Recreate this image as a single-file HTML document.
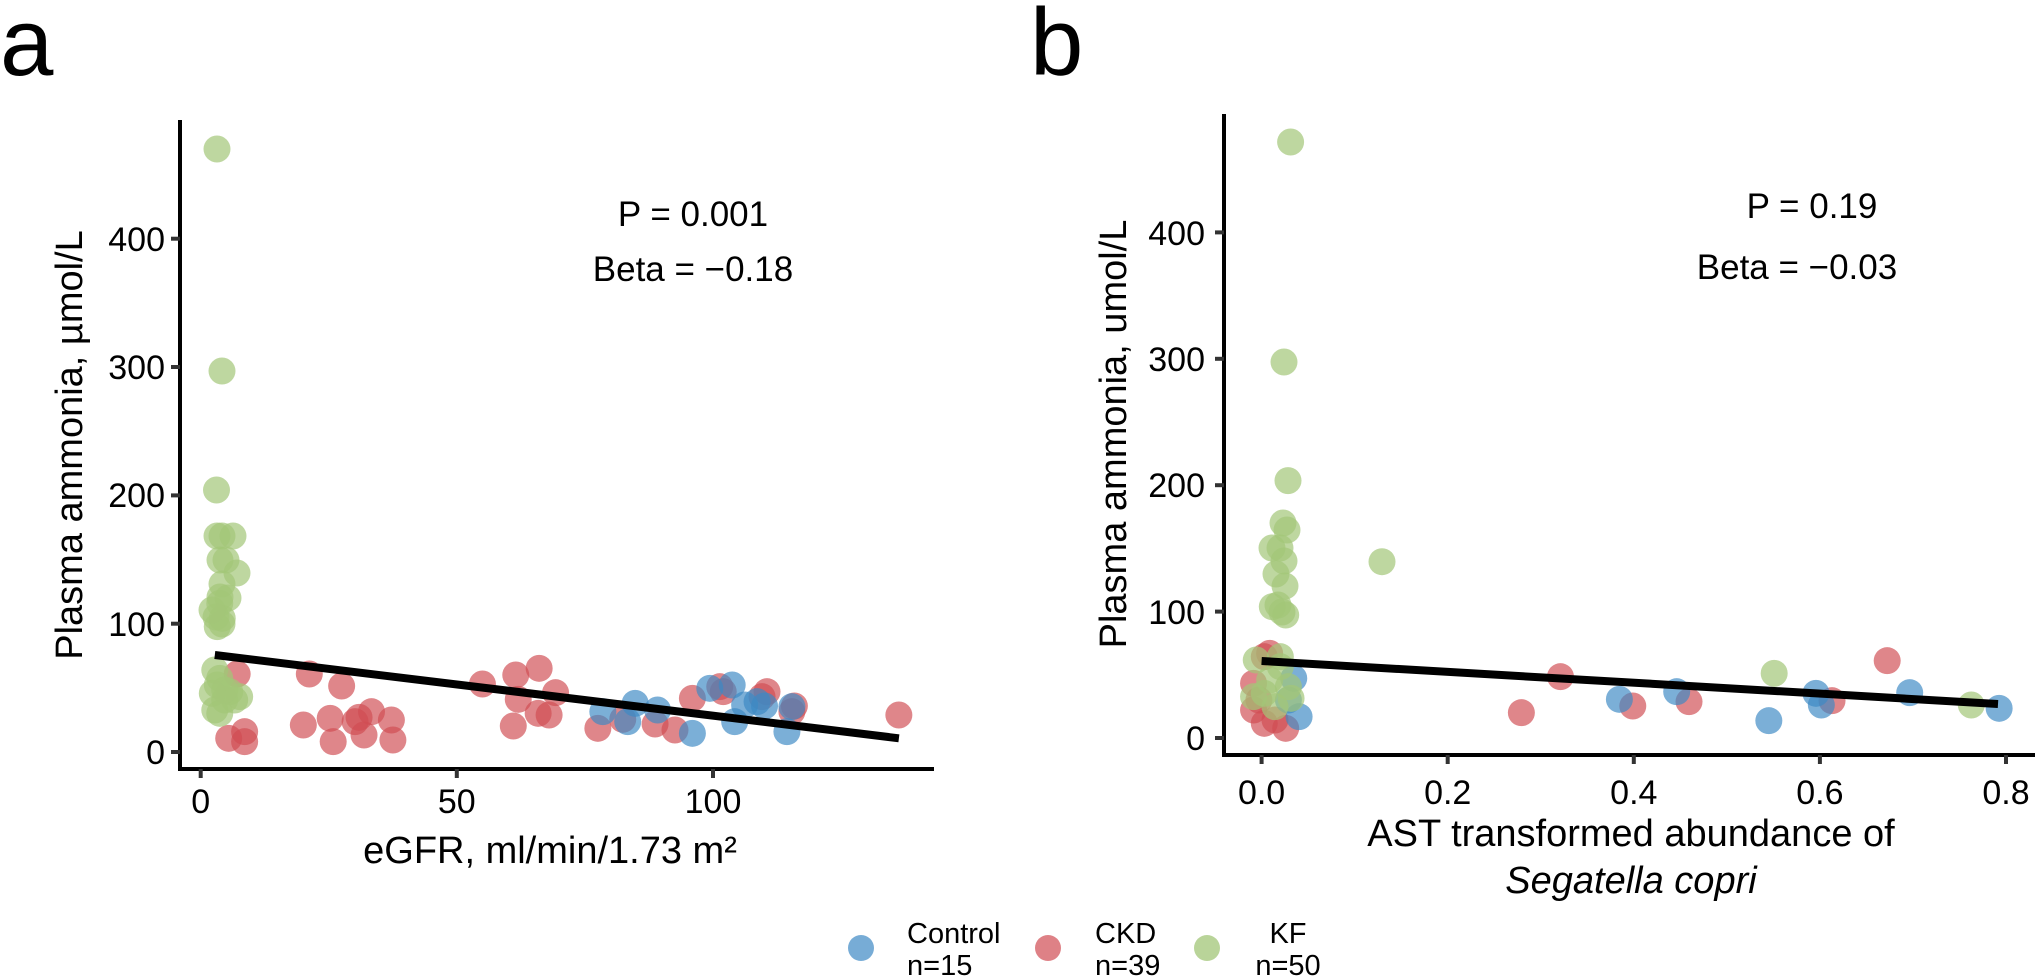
<!DOCTYPE html>
<html><head><meta charset="utf-8">
<style>
html,body{margin:0;padding:0;background:#fff;}
svg{display:block;}
text{font-family:"Liberation Sans",Arial,sans-serif;fill:#000;}
</style></head>
<body>
<svg id="s" width="2040" height="979" viewBox="0 0 2040 979" xmlns="http://www.w3.org/2000/svg">
<rect width="2040" height="979" fill="#fff"/>
<g id="pts"></g>
<!-- Panel a axes -->
<line x1="180" y1="120" x2="180" y2="771" stroke="#000" stroke-width="4"/>
<line x1="178" y1="769" x2="934" y2="769" stroke="#000" stroke-width="4"/>
<g stroke="#333" stroke-width="4">
<line x1="171" y1="752" x2="180" y2="752"/><line x1="171" y1="623.7" x2="180" y2="623.7"/>
<line x1="171" y1="495.4" x2="180" y2="495.4"/><line x1="171" y1="367" x2="180" y2="367"/>
<line x1="171" y1="238.7" x2="180" y2="238.7"/>
<line x1="200.7" y1="769" x2="200.7" y2="778"/><line x1="456.8" y1="769" x2="456.8" y2="778"/>
<line x1="713" y1="769" x2="713" y2="778"/>
</g>
<g font-size="34" text-anchor="end">
<text x="165" y="764">0</text><text x="165" y="636">100</text><text x="165" y="507">200</text>
<text x="165" y="379">300</text><text x="165" y="251">400</text>
</g>
<g font-size="34" text-anchor="middle">
<text x="200.7" y="813">0</text><text x="456.8" y="813">50</text><text x="713" y="813">100</text>
</g>
<text x="550" y="863" font-size="38" text-anchor="middle">eGFR, ml/min/1.73 m²</text>
<text transform="translate(82,445) rotate(-90)" font-size="38" text-anchor="middle">Plasma ammonia, µmol/L</text>
<text x="693" y="226" font-size="35" text-anchor="middle">P = 0.001</text>
<text x="693" y="281" font-size="35" text-anchor="middle">Beta = −0.18</text>
<text x="0" y="75" font-size="96">a</text>

<!-- Panel b axes -->
<line x1="1224" y1="114" x2="1224" y2="757" stroke="#000" stroke-width="4"/>
<line x1="1222" y1="755" x2="2035" y2="755" stroke="#000" stroke-width="4"/>
<g stroke="#333" stroke-width="4">
<line x1="1215" y1="738" x2="1224" y2="738"/><line x1="1215" y1="611.6" x2="1224" y2="611.6"/>
<line x1="1215" y1="485.2" x2="1224" y2="485.2"/><line x1="1215" y1="358.8" x2="1224" y2="358.8"/>
<line x1="1215" y1="232.4" x2="1224" y2="232.4"/>
<line x1="1261.6" y1="755" x2="1261.6" y2="764"/><line x1="1447.7" y1="755" x2="1447.7" y2="764"/>
<line x1="1633.8" y1="755" x2="1633.8" y2="764"/><line x1="1819.9" y1="755" x2="1819.9" y2="764"/>
<line x1="2006" y1="755" x2="2006" y2="764"/>
</g>
<g font-size="34" text-anchor="end">
<text x="1205" y="750">0</text><text x="1205" y="624">100</text><text x="1205" y="497">200</text>
<text x="1205" y="371">300</text><text x="1205" y="245">400</text>
</g>
<g font-size="34" text-anchor="middle">
<text x="1261.6" y="804">0.0</text><text x="1447.7" y="804">0.2</text><text x="1633.8" y="804">0.4</text>
<text x="1819.9" y="804">0.6</text><text x="2006" y="804">0.8</text>
</g>
<text x="1631" y="846" font-size="38" text-anchor="middle">AST transformed abundance of</text>
<text x="1631" y="893" font-size="38" text-anchor="middle" font-style="italic">Segatella copri</text>
<text transform="translate(1126,434) rotate(-90)" font-size="38" text-anchor="middle">Plasma ammonia, umol/L</text>
<text x="1812" y="218" font-size="35" text-anchor="middle">P = 0.19</text>
<text x="1797" y="279" font-size="35" text-anchor="middle">Beta = −0.03</text>
<text x="1030" y="75" font-size="96">b</text>

<!-- Legend -->
<circle cx="861" cy="948" r="13" fill="#3d89c4" fill-opacity="0.7"/>
<circle cx="1048" cy="948" r="13" fill="#d04c52" fill-opacity="0.7"/>
<circle cx="1207" cy="948" r="13" fill="#a2c677" fill-opacity="0.75"/>
<g font-size="29">
<text x="907" y="943">Control</text><text x="907" y="975">n=15</text>
<text x="1095" y="943">CKD</text><text x="1095" y="975">n=39</text>
<text x="1288" y="943" text-anchor="middle">KF</text><text x="1288" y="975" text-anchor="middle">n=50</text>
</g>
</svg>
<script>
(function(){
var NS="http://www.w3.org/2000/svg";
var g=document.getElementById("pts");
var col={r:"#d04c52",b:"#3d89c4",g:"#a2c677"};
function dot(x,y,c){var e=document.createElementNS(NS,"circle");e.setAttribute("cx",x);e.setAttribute("cy",y);e.setAttribute("r",13.5);e.setAttribute("fill",col[c]);e.setAttribute("fill-opacity",c=="g"?"0.7":"0.68");g.appendChild(e);}
function line(x1,y1,x2,y2){var e=document.createElementNS(NS,"line");e.setAttribute("x1",x1);e.setAttribute("y1",y1);e.setAttribute("x2",x2);e.setAttribute("y2",y2);e.setAttribute("stroke","#000");e.setAttribute("stroke-width","8");g.appendChild(e);}
function A(zx,zy,c){dot(170+zx/2.01,600+zy/3,c);}
var aR=[[135,222],[118,415],[150,395],[150,425],[280,222],[345,258],[268,375],[322,355],[328,425],[372,365],[390,405],[405,335],[380,352],[445,360],[448,420],[628,252],[695,225],[742,205],[700,298],[775,278],[740,340],[762,345],[690,378],[860,385],[910,358],[975,372],[1015,390],[1050,295],[1112,275],[1200,275],[1190,290],[1255,318],[1250,335],[1465,345],[1105,260]];
var aB=[[870,335],[935,310],[980,330],[1050,400],[1085,265],[1130,255],[1155,315],[1135,365],[1180,305],[1195,318],[1240,395],[1250,320],[920,365]];
var aG=[[100,10],[105,55],[95,80],[90,210],[100,235],[120,275],[140,290],[95,255],[110,300],[90,330],[100,340],[130,300],[110,270],[85,280]];
aR.forEach(function(p){A(p[0],p[1],"r");});
aB.forEach(function(p){A(p[0],p[1],"b");});
aG.forEach(function(p){A(p[0],p[1],"g");});
[[217,149],[222,371],[216.5,490],[217,536],[222,536],[233,536],[220,560],[226,560],[237,573],[222,584],[220,597],[228,598],[216,617],[222,624],[212,610]].forEach(function(p){dot(p[0],p[1],"g");});
line(214.8,655,898.9,738.3);
function B(zx,zy,c){dot(1200+zx/1.867,600+zy/3,c);}
[[673,230],[600,338],[808,318],[913,305],[1180,302],[1283,182],[120,170],[100,250],[100,330],[120,370],[160,385],[140,360],[110,300],[130,160]].forEach(function(p){B(p[0],p[1],"r");});
[[783,298],[890,275],[1062,362],[1150,280],[1160,315],[1325,278],[1492,325],[175,235],[185,350],[165,300]].forEach(function(p){B(p[0],p[1],"b");});
[[1072,220],[1440,315],[135,20],[160,45],[105,180],[150,200],[130,240],[165,260],[120,280],[170,295],[140,320],[100,290],[150,170]].forEach(function(p){B(p[0],p[1],"g");});
[[1290.6,142],[1284,362],[1288,480.6],[1382,561.7],[1283,523],[1287,530],[1272,548],[1280,548],[1284,561],[1276,574],[1285,586],[1278,605],[1282,612]].forEach(function(p){dot(p[0],p[1],"g");});
line(1261.6,661,1998,704);
})();
</script>
</body></html>
